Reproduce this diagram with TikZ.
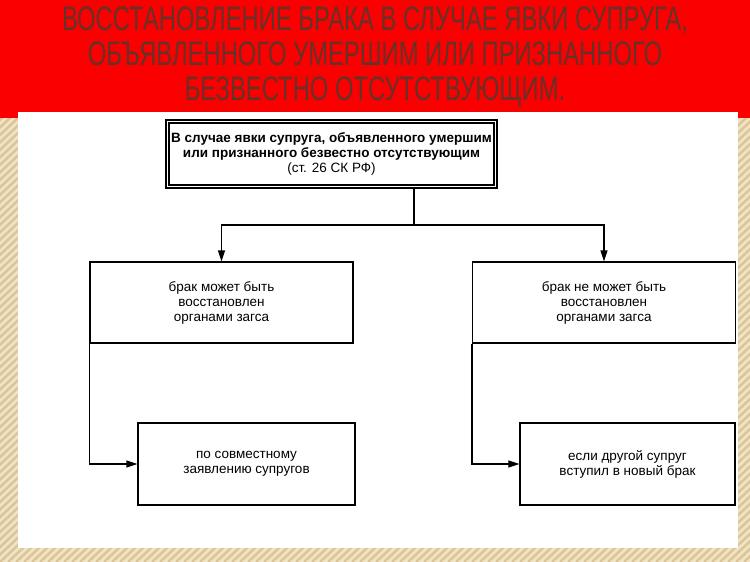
\documentclass[tikz,border=0pt]{standalone}
\usepackage{fontspec}
\setmainfont{Liberation Sans}
\newfontfamily\titlefont[FakeStretch=0.7]{Liberation Sans}
\usetikzlibrary{arrows.meta}
\definecolor{beige}{RGB}{240,228,200}
\definecolor{stripe}{RGB}{220,198,150}
\definecolor{titlered}{RGB}{250,0,0}
\definecolor{titletext}{RGB}{100,50,40}

\begin{document}
\begin{tikzpicture}[
    x=1pt, y=-1pt,
    box/.style={rectangle, draw, line width=1.2pt, align=center, font=\fontsize{13.5}{15}\selectfont, inner sep=2pt},
    arrow/.style={-{Triangle[length=11pt,width=7pt]}, line width=1.2pt}
]
\useasboundingbox (0,0) rectangle (750,562);

% Фон
\fill[beige] (0,0) rectangle (750,562);
\begin{scope}
\clip (0,0) rectangle (750,562);
\foreach \i in {0,8,...,1400}
  \draw[stripe, line width=2.5pt] (\i-600,562) -- (\i,0);
\end{scope}
\fill[titlered] (0,0) rectangle (750,118);
\fill[white] (18,112) rectangle (738,548);

% Заголовок
\node[font=\titlefont\fontsize{34}{35}\selectfont, text=titletext, align=center] (title) at (375,57)
  {ВОССТАНОВЛЕНИЕ БРАКА В СЛУЧАЕ ЯВКИ СУПРУГА,\\ОБЪЯВЛЕННОГО УМЕРШИМ ИЛИ ПРИЗНАННОГО\\БЕЗВЕСТНО ОТСУТСТВУЮЩИМ.};

% Схема
\draw[line width=2.5pt] (166,120) rectangle (497,188);
\node[box, minimum width=325pt, minimum height=62pt, font=\bfseries\fontsize{13.5}{15}\selectfont] (root) at (331.5,154)
  {В случае явки супруга, объявленного умершим\\или признанного безвестно отсутствующим\\\mdseries(ст. 26 СК РФ)};

\node[box, minimum width=263pt, minimum height=81pt] (canL) at (221.5,302.5) {брак может быть\\восстановлен\\органами загса};
\node[box, minimum width=263pt, minimum height=81pt] (canR) at (604,302.5) {брак не может быть\\восстановлен\\органами загса};
\node[box, minimum width=217pt, minimum height=82pt] (joint) at (246.5,464) {по совместному\\заявлению супругов};
\node[box, minimum width=215pt, minimum height=82pt] (newm) at (627.5,464) {если другой супруг\\вступил в новый брак};

\coordinate (fork) at (414,225);
\draw[line width=1.2pt] (414,188) -- (fork);
\draw[arrow] (fork) -| (canL.north);
\draw[arrow] (fork) -| (canR.north);
\draw[arrow] (canL.south west) |- (joint.west);
\draw[arrow] (canR.south west) |- (newm.west);

\end{tikzpicture}
\end{document}
